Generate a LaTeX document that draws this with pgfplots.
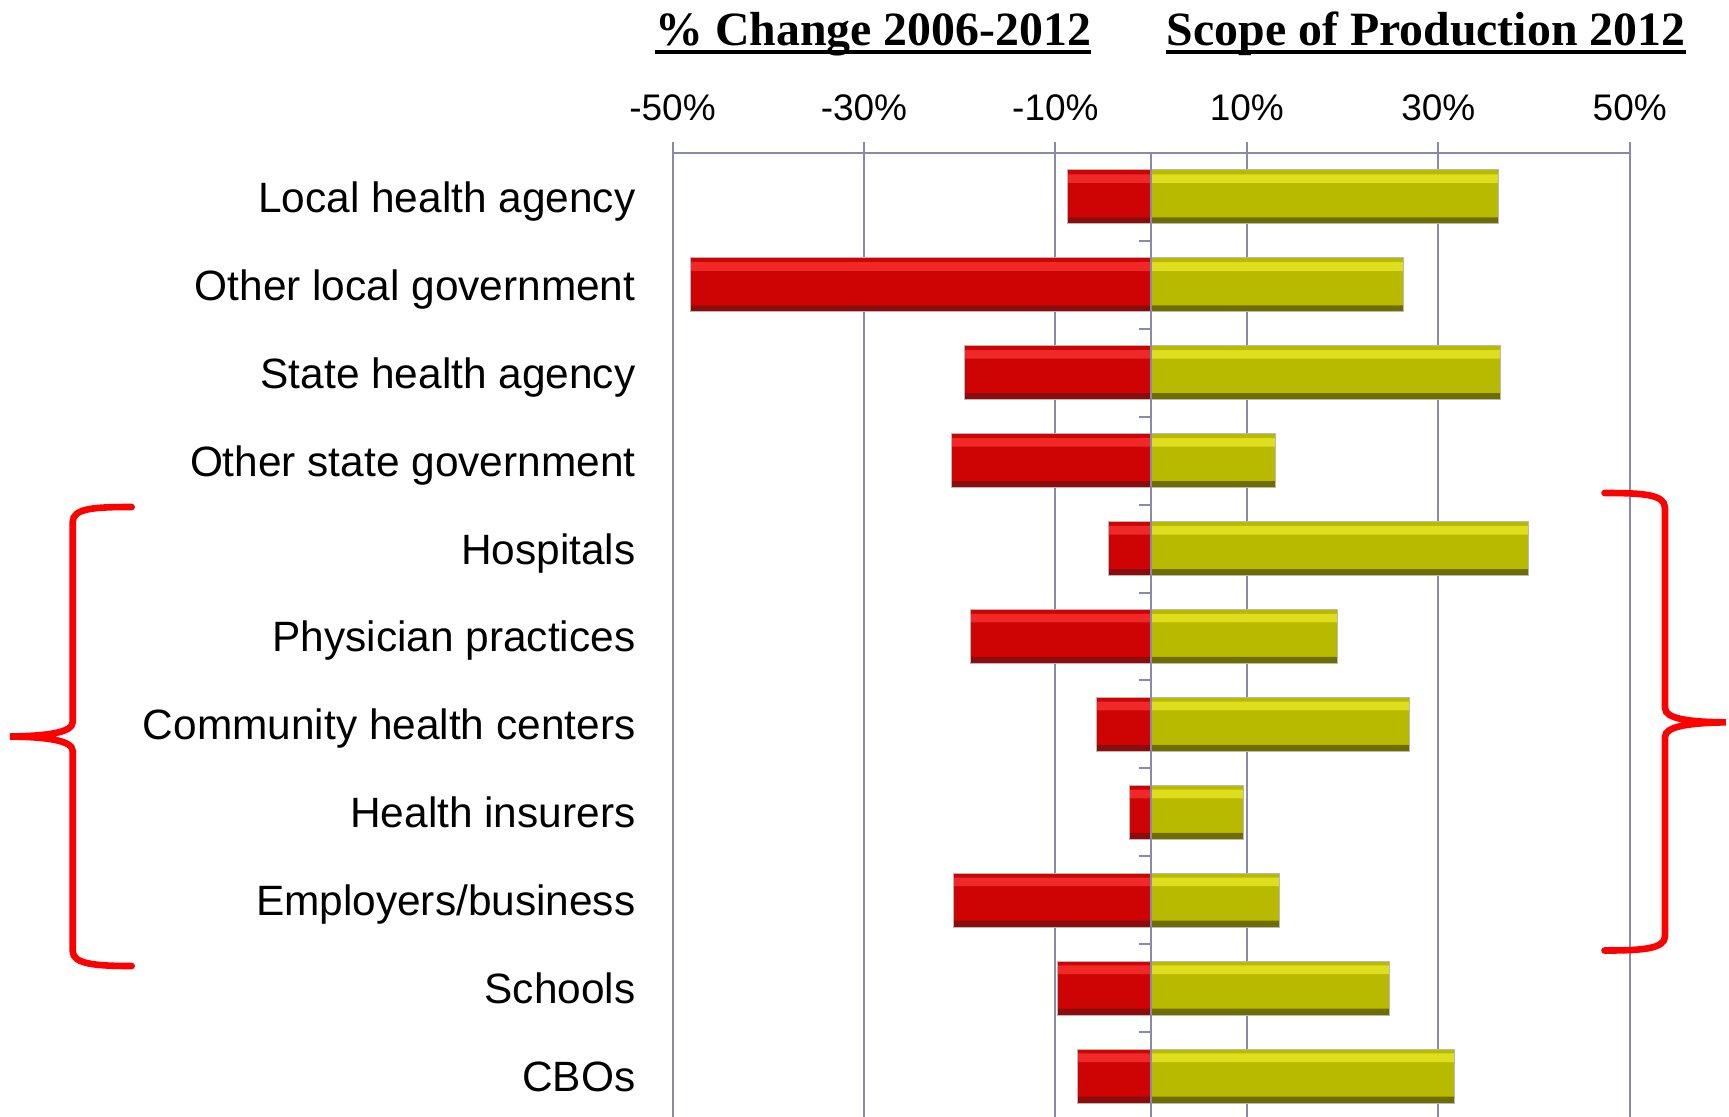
\documentclass[border=0pt]{standalone}
\usepackage{pgfplots}
\usepackage{pgfplotstable}
\pgfplotsset{compat=1.18}
\usepackage{fontspec}
\setmainfont{Liberation Sans}
\newfontfamily\titlefont{Liberation Serif}
\definecolor{gridc}{RGB}{138,138,168}
\definecolor{redm}{RGB}{206,4,4}
\definecolor{redl}{RGB}{240,40,40}
\definecolor{redd}{RGB}{140,12,12}
\definecolor{olm}{RGB}{184,186,0}
\definecolor{oll}{RGB}{222,222,30}
\definecolor{old}{RGB}{110,110,0}
\definecolor{braceRed}{RGB}{255,0,0}
\pgfplotstableread{
pos change scope
0  -7.7  31.7
1  -9.8  24.9
2  -20.6 13.4
3  -2.3  9.7
4  -5.7  27.0
5  -18.9 19.5
6  -4.4  39.4
7  -20.9 13.0
8  -19.5 36.5
9  -48.1 26.4
10 -8.7  36.3
}\datatable
\begin{document}
\begin{tikzpicture}
\useasboundingbox (0,0) rectangle (864.5pt,-558pt);
\begin{axis}[
  at={(336.25pt,-76.5pt)}, anchor=north west,
  scale only axis, width=478.6pt, height=483.5pt,
  xmin=-50, xmax=50, ymin=-0.5, ymax=10.5,
  enlargelimits=false,
  axis line style={draw=none},
  xtick={-50,-30,-10,10,30,50},
  xticklabels={-50\%,-30\%,-10\%,10\%,30\%,50\%},
  xtick pos=right, xticklabel pos=right, xtick align=outside,
  major tick length=5.5pt,
  xtick style={gridc, line width=1pt},
  xmajorgrids, grid style={gridc, line width=1pt},
  xticklabel style={font=\fontsize{18.5}{20}\selectfont, yshift=7.2pt},
  ytick={0,1,2,3,4,5,6,7,8,9,10},
  yticklabels={CBOs, Schools, Employers/business, Health insurers, Community health centers, Physician practices, Hospitals, Other state government, State health agency, Other local government, Local health agency},
  ytick style={draw=none},
  yticklabel pos=left,
  yticklabel style={font=\fontsize{21.2}{24}\selectfont, anchor=base east, xshift=-15pt, yshift=-7.7pt},
  clip=false,
  every axis plot/.append style={xbar, draw=none},
]
% red: % change 2006-2012
\addplot[bar shift=0pt, bar width=0.615, fill=redm] table[x=change, y=pos] {\datatable};
\addplot[bar shift=-0.270, bar width=0.075, fill=redd] table[x=change, y=pos] {\datatable};
\addplot[bar shift=0.209, bar width=0.098, fill=redl] table[x=change, y=pos] {\datatable};
\addplot[bar shift=0pt, bar width=0.615, fill=none, draw=gray!55, line width=0.5pt] table[x=change, y=pos] {\datatable};
% olive: scope of production 2012
\addplot[bar shift=0pt, bar width=0.615, fill=olm] table[x=scope, y=pos] {\datatable};
\addplot[bar shift=-0.270, bar width=0.075, fill=old] table[x=scope, y=pos] {\datatable};
\addplot[bar shift=0.209, bar width=0.098, fill=oll] table[x=scope, y=pos] {\datatable};
\addplot[bar shift=0pt, bar width=0.615, fill=none, draw=gray!55, line width=0.5pt] table[x=scope, y=pos] {\datatable};
\draw[gridc, line width=1pt] (axis cs:-50,10.5) -- (axis cs:50,10.5);
\draw[gridc, line width=1pt] (axis cs:0,-0.5) -- (axis cs:0,10.5);
\pgfplotsinvokeforeach{0.5,1.5,2.5,3.5,4.5,5.5,6.5,7.5,8.5,9.5,10.5}{
  \draw[gridc, line width=1pt] (axis cs:0,#1) -- ++(-6.25pt,0pt);
}
\end{axis}
\begin{scope}[x=0.5pt, y=-0.5pt]
\node[anchor=base, inner sep=0pt, font=\titlefont\bfseries\fontsize{23.9}{28}\selectfont] (t1) at (873.3,45) {\% Change 2006-2012};
\draw[line width=2pt] ([yshift=-3.4pt]t1.base west) -- ([yshift=-3.4pt]t1.base east);
\node[anchor=base, inner sep=0pt, font=\titlefont\bfseries\fontsize{23.9}{28}\selectfont] (t2) at (1426,45) {Scope of Production 2012};
\draw[line width=2pt] ([yshift=-3.4pt]t2.base west) -- ([yshift=-3.4pt]t2.base east);
\draw[braceRed, line width=3.3pt, line cap=round] (131.7,507) .. controls (95,507) and (72.7,508) .. (72.7,522) -- (72.7,722) .. controls (72.7,733) and (45,736) .. (10,736.5) .. controls (45,737) and (72.7,740) .. (72.7,751) -- (72.7,951) .. controls (72.7,964) and (95,966) .. (131.7,966);
\draw[braceRed, line width=3.3pt, line cap=round] (1604.5,493) .. controls (1642,493) and (1665,494) .. (1665,508) -- (1665,708) .. controls (1665,719) and (1690,722) .. (1725.7,722.3) .. controls (1690,723) and (1665,726) .. (1665,737) -- (1665,936) .. controls (1665,949) and (1642,950.5) .. (1604.5,950.5);
\end{scope}
\end{tikzpicture}
\end{document}
